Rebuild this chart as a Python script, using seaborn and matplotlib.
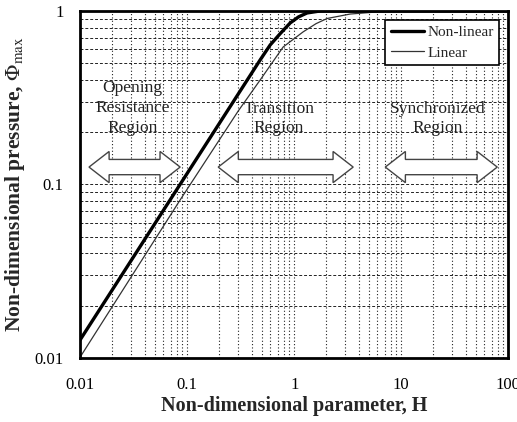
import numpy as np
import pandas as pd
import seaborn as sns
import matplotlib.pyplot as plt
from matplotlib.patches import Polygon
from matplotlib.ticker import LogLocator, FixedLocator, NullFormatter

# values
nonlin_H = [0.01, 0.0693, 0.481, 0.597, 0.74, 0.918, 1.1, 1.32, 1.75, 5.0, 100.0]
nonlin_phi = [0.0127, 0.0814, 0.522, 0.637, 0.74, 0.853, 0.925, 0.974, 1.0, 1.0, 1.0]
lin_H = [0.01, 0.086, 0.30, 0.481, 0.789, 1.21, 1.6, 2.03, 3.33, 6.3, 12.0, 100.0]
lin_phi = [0.0101, 0.0814, 0.265, 0.40, 0.62, 0.757, 0.845, 0.905, 0.96, 0.99, 1.0, 1.0]

x_ticks = [0.01, 0.1, 1, 10, 100]
x_tick_labels = ["0.01", "0.1", "1", "10", "100"]
y_ticks = [0.01, 0.1, 1]
y_tick_labels = ["0.01", "0.1", "1"]

region_labels = ["Opening\nResistance\nRegion", "Transition\nRegion", "Synchronized\nRegion"]
region_text_H = [0.031, 0.72, 22.0]
region_text_y = [0.72, 0.69, 0.69]
region_arrow_H = [(0.0121, 0.086), (0.195, 3.56), (7.1, 79.0)]

sns.set_theme(style="white")
plt.rcParams["font.family"] = ["Liberation Serif", "DejaVu Serif"]
plt.rcParams["mathtext.fontset"] = "stix"

df = pd.concat([
    pd.DataFrame({"H": nonlin_H, "phi": nonlin_phi, "model": "Non-linear"}),
    pd.DataFrame({"H": lin_H, "phi": lin_phi, "model": "Linear"}),
])

fig = plt.figure(figsize=(5.17, 4.22), dpi=100)
ax = fig.add_axes([0.155, 0.152, 0.828, 0.822])

sns.lineplot(data=df[df.model == "Non-linear"], x="H", y="phi", ax=ax,
             color="black", linewidth=2.4, label="Non-linear", sort=False)
sns.lineplot(data=df[df.model == "Linear"], x="H", y="phi", ax=ax,
             color="#333333", linewidth=0.9, label="Linear", sort=False)

ax.set_xscale("log")
ax.set_yscale("log")
ax.set_xlim(0.01, 100)
ax.set_ylim(0.01, 1)

ax.xaxis.set_major_locator(FixedLocator(x_ticks))
ax.set_xticklabels(x_tick_labels)
ax.yaxis.set_major_locator(FixedLocator(y_ticks))
ax.set_yticklabels(y_tick_labels)
ax.xaxis.set_minor_locator(LogLocator(base=10, subs=np.arange(2, 10)))
ax.yaxis.set_minor_locator(LogLocator(base=10, subs=np.arange(2, 10)))
ax.xaxis.set_minor_formatter(NullFormatter())
ax.yaxis.set_minor_formatter(NullFormatter())

ax.tick_params(axis="both", which="major", labelsize=12, direction="in", length=6,
               width=1.2, pad=12, colors="black")
ax.tick_params(axis="y", which="minor", direction="in", length=5, width=1.2)
ax.tick_params(axis="x", which="minor", direction="in", length=0)
ax.tick_params(axis="x", which="major", length=0, pad=14)

# dotted grid
ax.grid(True, axis="x", which="both", linestyle=(0, (1, 2)), color="#222222", linewidth=0.8)
ax.grid(True, axis="y", which="both", linestyle=(0, (3, 2)), color="#222222", linewidth=0.7)

for s in ax.spines.values():
    s.set_linewidth(2)
    s.set_color("black")

ax.set_xlabel("Non-dimensional parameter, H", fontsize=14.5, fontweight="bold", labelpad=2)
ax.set_ylabel(r"Non-dimensional pressure, $\Phi_{\mathrm{max}}$", fontsize=15.5,
              fontweight="bold", labelpad=5)

leg = ax.legend(loc="upper right", fontsize=11, frameon=True, fancybox=False,
                framealpha=1, edgecolor="black", handlelength=2.2, handletextpad=0.2,
                borderaxespad=0.6, borderpad=0.35, labelspacing=0.45)
leg.get_frame().set_linewidth(1.2)


def double_arrow(ax, h0, h1, yc):
    # hollow double-headed arrow, x in data units (log), y in axes fraction
    f0 = (np.log10(h0) + 2) / 4
    f1 = (np.log10(h1) + 2) / 4
    hl, hw, sw = 0.047, 0.045, 0.022
    pts = [(f0, yc), (f0 + hl, yc + hw), (f0 + hl, yc + sw), (f1 - hl, yc + sw),
           (f1 - hl, yc + hw), (f1, yc), (f1 - hl, yc - hw), (f1 - hl, yc - sw),
           (f0 + hl, yc - sw), (f0 + hl, yc - hw)]
    ax.add_patch(Polygon(pts, closed=True, transform=ax.transAxes, facecolor="white",
                         edgecolor="#444444", linewidth=1.0, zorder=3))


for label, h, y in zip(region_labels, region_text_H, region_text_y):
    ax.text(h, y, label, transform=ax.get_xaxis_transform(), ha="center", va="center",
            fontsize=12.5, color="#222222", linespacing=1.3, zorder=3)

for h0, h1 in region_arrow_H:
    double_arrow(ax, h0, h1, 0.55)

fig.savefig("out.png", dpi=100)
